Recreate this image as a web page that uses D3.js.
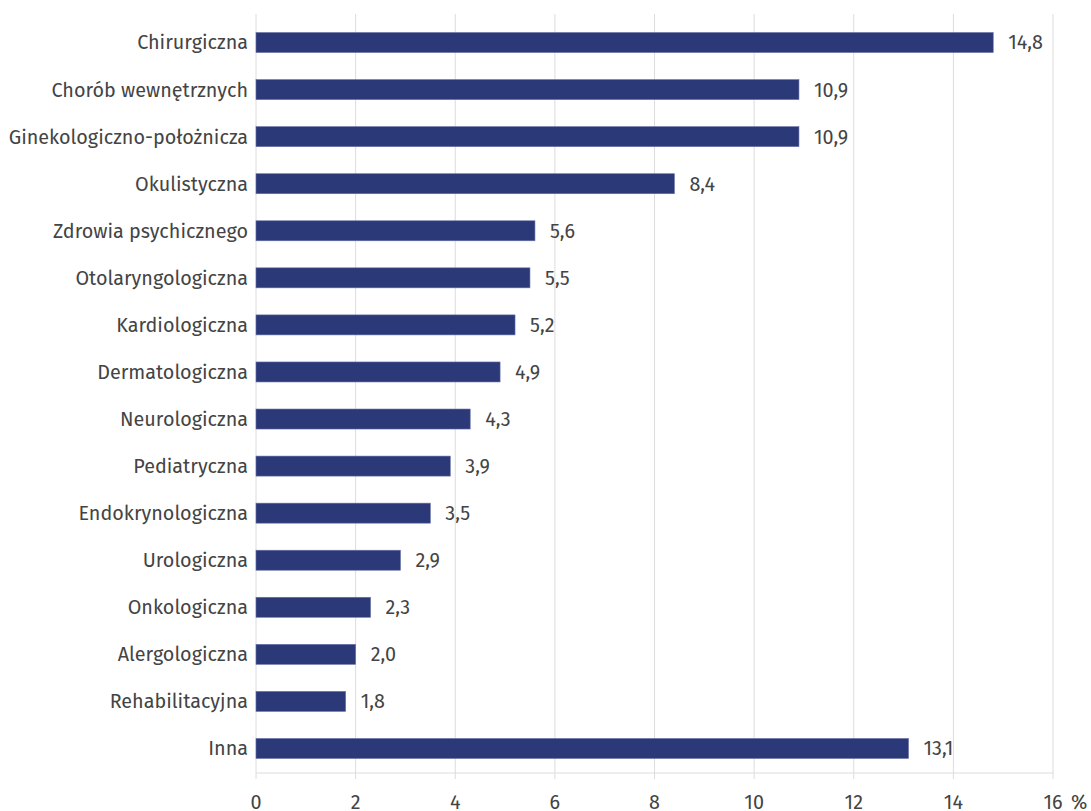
<!DOCTYPE html>
<html><head><meta charset="utf-8">
<script src="https://cdn.jsdelivr.net/npm/d3@7"></script>
<style>body{margin:0;background:#fff}text{font-family:"Fira Sans","Open Sans","Noto Sans",sans-serif;font-weight:400}</style>
</head><body><svg id="c" width="1091" height="811"></svg>
<script>
const categories = ["Chirurgiczna","Chorób wewnętrznych","Ginekologiczno-położnicza","Okulistyczna","Zdrowia psychicznego","Otolaryngologiczna","Kardiologiczna","Dermatologiczna","Neurologiczna","Pediatryczna","Endokrynologiczna","Urologiczna","Onkologiczna","Alergologiczna","Rehabilitacyjna","Inna"];
const values = [14.8,10.9,10.9,8.4,5.6,5.5,5.2,4.9,4.3,3.9,3.5,2.9,2.3,2.0,1.8,13.1];
const xTicks = [0,2,4,6,8,10,12,14,16];
const unit = "%";

const svg = d3.select("#c");
const x = d3.scaleLinear().domain([0,16]).range([256,1053]);
const y = d3.scaleBand().domain(categories).range([19,772]).paddingInner(0.575).paddingOuter(0.2875);

// grid
svg.append("g").selectAll("line").data(xTicks).join("line")
  .attr("x1",d=>x(d)).attr("x2",d=>x(d)).attr("y1",14).attr("y2",779)
  .attr("stroke","#dcdcdc").attr("stroke-width",1);
svg.append("line").attr("x1",x(0)).attr("x2",x(16)).attr("y1",773).attr("y2",773)
  .attr("stroke","#dcdcdc");

// bars
svg.append("g").selectAll("rect").data(categories).join("rect")
  .attr("x",x(0)).attr("y",d=>y(d)).attr("height",y.bandwidth())
  .attr("width",(d,i)=>x(values[i])-x(0))
  .attr("fill","#2c3979").attr("stroke","#6570a6").attr("stroke-width",0.6);

// category labels
svg.append("g").selectAll("text").data(categories).join("text")
  .attr("x",x(0)-8).attr("y",d=>y(d)+y.bandwidth()/2).attr("dy","0.35em")
  .attr("text-anchor","end").attr("font-size",19.8).attr("fill","#444").text(d=>d);

// value labels
const fmt = v => d3.format(".1f")(v).replace(".",",");
svg.append("g").selectAll("text").data(categories).join("text")
  .attr("x",(d,i)=>x(values[i])+15).attr("y",d=>y(d)+y.bandwidth()/2).attr("dy","0.35em")
  .attr("font-size",19.8).attr("fill","#444").text((d,i)=>fmt(values[i]));

// axis tick labels
svg.append("g").selectAll("text").data(xTicks).join("text")
  .attr("x",d=>x(d)).attr("y",802).attr("dy","0.35em").attr("text-anchor","middle")
  .attr("font-size",19.8).attr("fill","#444").text(d=>d);
svg.append("text").attr("x",1071).attr("y",802).attr("dy","0.35em")
  .attr("font-size",19.8).attr("fill","#444").text(unit);
</script></body></html>
